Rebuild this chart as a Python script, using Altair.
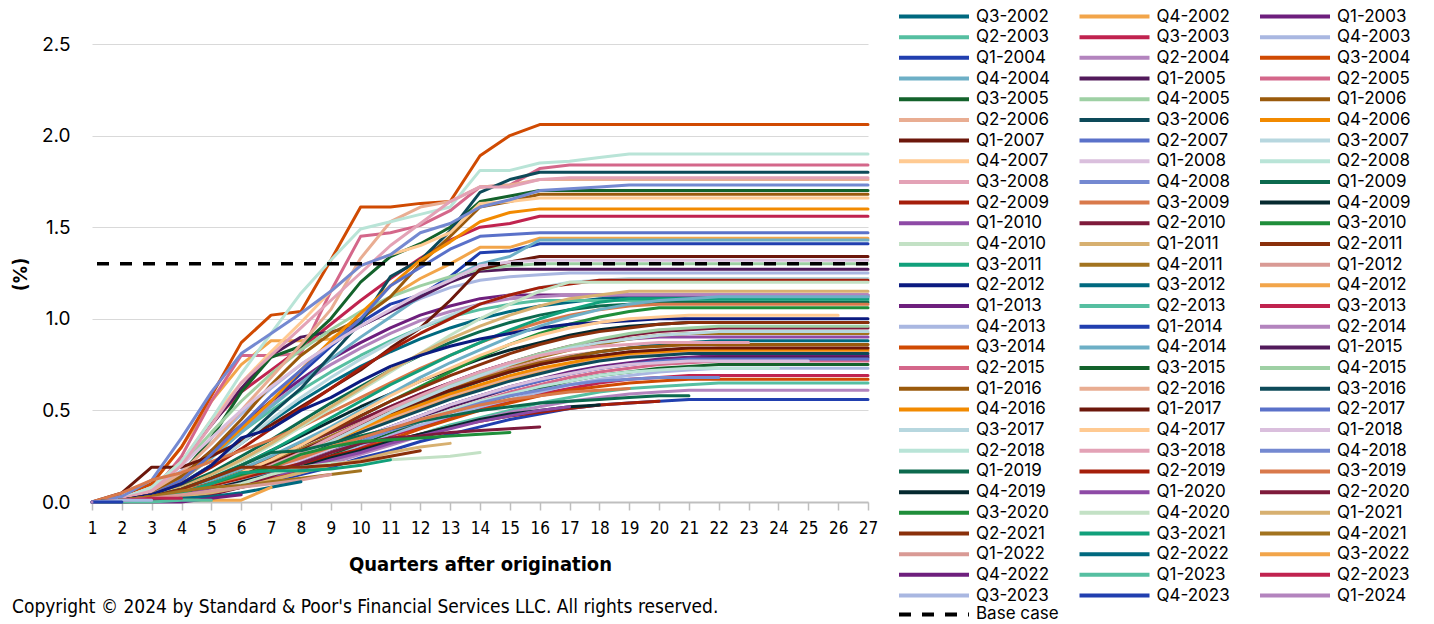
import altair as alt
import pandas as pd

QUARTERS = list(range(1, 28))
Y_TICKS = [0.0, 0.5, 1.0, 1.5, 2.0, 2.5]
BASE_CASE = 1.3
COPYRIGHT = "Copyright \u00a9 2024 by Standard & Poor's Financial Services LLC. All rights reserved."

SERIES = [
    "Q3-2002", "Q4-2002",
    "Q1-2003", "Q2-2003", "Q3-2003", "Q4-2003",
    "Q1-2004", "Q2-2004", "Q3-2004", "Q4-2004",
    "Q1-2005", "Q2-2005", "Q3-2005", "Q4-2005",
    "Q1-2006", "Q2-2006", "Q3-2006", "Q4-2006",
    "Q1-2007", "Q2-2007", "Q3-2007", "Q4-2007",
    "Q1-2008", "Q2-2008", "Q3-2008", "Q4-2008",
    "Q1-2009", "Q2-2009", "Q3-2009", "Q4-2009",
    "Q1-2010", "Q2-2010", "Q3-2010", "Q4-2010",
    "Q1-2011", "Q2-2011", "Q3-2011", "Q4-2011",
    "Q1-2012", "Q2-2012", "Q3-2012", "Q4-2012",
    "Q1-2013", "Q2-2013", "Q3-2013", "Q4-2013",
    "Q1-2014", "Q2-2014", "Q3-2014", "Q4-2014",
    "Q1-2015", "Q2-2015", "Q3-2015", "Q4-2015",
    "Q1-2016", "Q2-2016", "Q3-2016", "Q4-2016",
    "Q1-2017", "Q2-2017", "Q3-2017", "Q4-2017",
    "Q1-2018", "Q2-2018", "Q3-2018", "Q4-2018",
    "Q1-2019", "Q2-2019", "Q3-2019", "Q4-2019",
    "Q1-2020", "Q2-2020", "Q3-2020", "Q4-2020",
    "Q1-2021", "Q2-2021", "Q3-2021", "Q4-2021",
    "Q1-2022", "Q2-2022", "Q3-2022", "Q4-2022",
    "Q1-2023", "Q2-2023", "Q3-2023", "Q4-2023",
    "Q1-2024",
]

PALETTE = [
    "#00697F", "#F2A54A", "#6E1F7D", "#56BFA1", "#C0234F", "#A9B7E1", "#213FAF", "#B384BE",
    "#D04A02", "#6DAFC6", "#521A5B", "#D4678A", "#13622B", "#9ED0A4", "#9A5A0C", "#E9AD92",
    "#0D4A59", "#F28A00", "#6C170B", "#5A71C9", "#B7D7DF", "#FFCA92", "#DABFDD", "#B9E4D7",
    "#E3A2B6", "#7489D1", "#0C6A4E", "#A51E0A", "#D9794B", "#05292F", "#8E4AA6", "#7E1A3B",
    "#1F8E3A", "#C3E1C5", "#D7B070", "#8A300B", "#11A07B", "#A2731F", "#D99A95", "#0B1B80",
]
COLORS = PALETTE[:40] + PALETTE[:39] + PALETTE[:8]

# cumulative loss per vintage, in hundredths of a percent, quarter 1 onwards
LOSS = {
    "Q3-2002": [0,1,4,10,20,32,44,55,65,74,82,89,95,100,104,107,109,111,112,112,112,112,112,112,112,112,112],
    "Q4-2002": [0,2,10,30,55,75,88,88,89,100,112,122,130,139,139,144,144,144,144,144,144,144,144,144,144,144,144],
    "Q1-2003": [0,1,5,14,28,42,55,67,78,87,95,102,107,111,113,113,113,113,113,113,113,113,113,113,113,113,113],
    "Q2-2003": [0,1,4,12,25,38,50,61,71,80,88,95,101,105,108,110,110,110,110,110,110,110,110,110,110,110,110],
    "Q3-2003": [0,2,8,20,43,60,72,84,97,110,122,133,143,150,152,156,156,156,156,156,156,156,156,156,156,156,156],
    "Q4-2003": [0,2,7,17,32,48,62,75,86,96,104,111,117,121,123,124,125,125,125,125,125,125,125,125,125,125,125],
    "Q1-2004": [0,0,4,12,25,40,55,70,85,98,108,113,123,136,137,141,141,141,141,141,141,141,141,141,141,141,141],
    "Q2-2004": [0,1,5,13,26,40,53,65,75,84,92,99,104,108,111,112,113,113,113,113,113,113,113,113,113,113,113],
    "Q3-2004": [0,3,10,30,58,87,102,104,132,161,161,163,164,189,200,206,206,206,206,206,206,206,206,206,206,206,206],
    "Q4-2004": [0,1,4,12,24,38,52,65,78,90,101,112,122,130,134,143,143,143,143,143,143,143,143,143,143,143,143],
    "Q1-2005": [0,2,8,22,42,62,80,90,93,96,104,112,120,126,127,127,127,127,127,127,127,127,127,127,127,127,127],
    "Q2-2005": [0,2,5,25,55,80,80,81,115,145,147,151,159,172,173,182,184,184,184,184,184,184,184,184,184,184,184],
    "Q3-2005": [0,1,5,15,35,60,79,85,100,120,134,141,150,164,167,170,170,170,170,170,170,170,170,170,170,170,170],
    "Q4-2005": [0,2,8,20,38,55,70,83,94,104,112,118,123,127,129,130,130,130,130,130,130,130,130,130,130,130,130],
    "Q1-2006": [0,1,5,14,28,45,64,80,92,100,112,130,145,161,164,168,168,168,168,168,168,168,168,168,168,168,168],
    "Q2-2006": [0,2,6,16,32,50,68,86,105,133,153,161,164,172,173,176,176,176,176,176,176,176,176,176,176,176,176],
    "Q3-2006": [0,1,4,10,20,33,48,62,80,98,123,132,148,169,176,180,180,180,180,180,180,180,180,180,180,180,180],
    "Q4-2006": [0,1,4,12,25,40,55,72,88,103,118,132,142,153,158,160,160,160,160,160,160,160,160,160,160,160,160],
    "Q1-2007": [0,5,19,19,25,33,42,52,62,72,84,95,110,127,131,134,134,134,134,134,134,134,134,134,134,134,134],
    "Q2-2007": [0,1,4,12,26,42,58,72,86,100,118,128,138,145,146,147,147,147,147,147,147,147,147,147,147,147,147],
    "Q3-2007": [0,1,4,10,20,32,45,57,68,78,87,95,102,108,113,117,120,121,122,122,122,122,122,122,122,122,122],
    "Q4-2007": [0,2,8,22,45,65,82,98,115,129,135,140,147,163,164,166,166,166,166,166,166,166,166,166,166,166,166],
    "Q1-2008": [0,2,8,20,35,50,63,75,86,96,105,114,121,129,131,132,132,132,132,132,132,132,132,132,132,132,132],
    "Q2-2008": [0,2,8,22,45,70,92,114,132,149,153,157,161,181,181,185,186,188,190,190,190,190,190,190,190,190,190],
    "Q3-2008": [0,2,6,20,42,65,80,95,110,125,140,152,164,172,172,176,177,177,177,177,177,177,177,177,177,177,177],
    "Q4-2008": [0,3,12,35,60,81,92,103,115,129,135,147,152,161,165,170,171,172,173,173,173,173,173,173,173,173,173],
    "Q1-2009": [0,1,4,9,16,25,34,44,54,63,72,80,87,93,98,102,105,107,108,109,109,109,109,109,109,109,109],
    "Q2-2009": [0,1,4,10,19,29,40,51,62,73,83,92,100,108,113,117,119,121,121,121,121,121,121,121,121,121,121],
    "Q3-2009": [0,5,12,16,22,28,34,41,49,57,65,73,80,87,93,98,102,105,107,108,108,108,108,108,108,108,108],
    "Q4-2009": [0,1,3,7,13,20,28,36,44,52,59,66,72,78,83,87,91,94,96,97,98,98,98,98,98,98,98],
    "Q1-2010": [0,1,3,6,11,17,24,31,38,45,52,59,65,71,76,80,84,87,89,90,90,90,90,90,90,90,90],
    "Q2-2010": [0,1,3,6,11,17,24,31,38,45,52,59,65,71,76,81,85,88,91,93,94,95,95,95,95,95,95],
    "Q3-2010": [0,1,2,5,10,16,23,31,39,47,55,63,71,79,86,92,97,101,104,106,106,106,106,106,106,106,106],
    "Q4-2010": [0,1,3,7,14,22,31,41,51,61,71,81,91,100,108,115,120,120,120,120,120,120,120,120,120,120,120],
    "Q1-2011": [0,1,3,8,15,23,32,42,52,62,72,81,89,96,102,107,111,113,115,115,115,115,115,115,115,115,115],
    "Q2-2011": [0,1,3,6,11,17,24,31,39,47,55,62,69,75,81,86,90,93,95,97,98,98,98,98,98,98,98],
    "Q3-2011": [0,1,3,7,13,20,28,37,46,55,64,72,80,87,94,100,105,109,111,111,111,111,111,111,111,111,111],
    "Q4-2011": [0,1,2,5,10,16,22,29,36,43,50,57,63,69,74,79,83,86,89,91,92,92,92,92,92,92,92],
    "Q1-2012": [0,1,2,5,9,15,21,28,35,42,49,56,62,68,73,77,80,82,84,85,86,86,86,86,86,86,86],
    "Q2-2012": [0,1,4,10,20,35,40,50,57,66,74,80,85,89,92,95,97,98,99,100,100,100,100,100,100,100,100],
    "Q3-2012": [0,1,2,5,9,14,20,27,34,41,48,54,60,66,71,75,79,82,84,86,87,88,88,88,88,88,88],
    "Q4-2012": [0,1,2,4,8,13,19,25,31,38,45,51,57,62,67,71,75,78,80,82,83,84,84,84,84,84,84],
    "Q1-2013": [0,1,2,4,7,12,17,23,29,35,41,47,53,58,63,67,71,74,76,78,79,80,80,80,80,80,80],
    "Q2-2013": [0,1,2,3,6,9,13,17,22,27,32,37,42,46,50,54,57,60,62,63,64,65,65,65,65,65,65],
    "Q3-2013": [0,1,2,4,6,10,14,19,24,30,36,41,46,51,55,59,62,65,67,68,69,69,69,69,69,69,69],
    "Q4-2013": [0,1,2,4,7,11,15,20,25,31,37,42,47,52,56,60,64,67,69,71,72,73,73,73,73,73,73],
    "Q1-2014": [0,1,1,3,5,8,11,15,19,24,28,33,37,41,45,48,51,53,54,55,56,56,56,56,56,56,56],
    "Q2-2014": [0,1,2,3,5,8,12,16,21,26,31,36,41,45,49,52,55,57,59,60,61,61,61,61,61,61,61],
    "Q3-2014": [0,1,2,3,6,9,13,18,23,29,34,40,45,50,54,58,61,63,65,66,67,67,67,67,67,67,67],
    "Q4-2014": [0,1,3,7,12,18,25,33,41,50,59,68,76,83,90,96,101,105,108,110,111,112,112,112,112,112,112],
    "Q1-2015": [0,1,2,4,7,11,16,22,28,34,40,46,52,57,62,66,70,73,75,77,78,79,79,79,79,79,79],
    "Q2-2015": [0,1,2,4,7,11,16,21,27,33,39,45,50,55,60,64,68,71,73,75,76,77,77,77,77,77,77],
    "Q3-2015": [0,1,2,4,7,11,15,20,26,32,38,44,49,54,58,62,66,69,71,73,74,75,75,75,75,75,75],
    "Q4-2015": [0,1,2,5,9,14,20,27,34,42,50,57,64,70,76,81,85,89,92,94,95,96,96,96,96,96,96],
    "Q1-2016": [0,1,2,5,9,14,20,27,34,41,48,55,61,67,72,76,79,82,84,85,86,86,86,86,86,86,86],
    "Q2-2016": [0,1,2,4,8,13,19,25,32,39,46,52,58,63,68,72,75,78,80,81,82,82,82,82,82,82,82],
    "Q3-2016": [0,1,2,5,9,14,20,26,32,38,44,50,56,61,66,70,74,77,79,80,81,81,81,81,81,81,81],
    "Q4-2016": [0,1,2,4,8,13,19,26,33,40,47,53,59,64,69,73,76,79,81,82,83,83,83,83,83,83,83],
    "Q1-2017": [0,1,3,6,10,15,21,28,35,42,49,55,61,66,71,75,78,80,82,83,84,84,84,84,84,84,84],
    "Q2-2017": [0,1,2,4,7,12,17,23,29,35,41,47,53,58,62,66,70,73,75,77,78,78,78,78,78,78,78],
    "Q3-2017": [0,1,2,4,8,13,19,26,33,41,49,56,63,69,75,80,84,87,89,91,92,93,93,93,93,93,93],
    "Q4-2017": [0,1,2,5,10,16,23,31,40,49,58,66,73,80,86,91,95,98,100,101,102,102,102,102,102,102],
    "Q1-2018": [0,1,2,4,8,12,17,23,29,35,41,47,53,58,63,67,70,73,75,76,77,77,77,77,77],
    "Q2-2018": [0,1,2,4,7,11,16,21,27,33,39,45,50,55,59,63,66,69,71,72,73,73,73,73],
    "Q3-2018": [0,1,2,5,9,14,20,27,35,43,51,58,65,71,76,80,83,85,86,87,87,87,87],
    "Q4-2018": [0,1,2,4,7,11,16,21,27,33,39,44,49,54,58,61,64,66,67,68,68,68],
    "Q1-2019": [0,1,3,7,13,20,27,28,32,36,40,44,47,50,52,54,55,56,57,58,58],
    "Q2-2019": [0,1,2,5,9,13,17,21,25,29,33,37,41,44,47,49,51,53,54,55],
    "Q3-2019": [0,1,3,6,10,14,19,24,30,35,40,45,49,53,56,58,60,61,62],
    "Q4-2019": [0,1,2,4,7,11,15,19,24,28,33,37,41,45,48,50,52,53],
    "Q1-2020": [0,1,2,4,7,10,14,18,23,27,32,36,40,44,47,50,52],
    "Q2-2020": [0,0,1,2,4,8,14,21,27,32,35,36,38,39,40,41],
    "Q3-2020": [0,1,2,5,10,15,19,26,30,33,34,35,36,37,38],
    "Q4-2020": [0,0,1,3,6,10,15,19,21,22,23,24,25,27],
    "Q1-2021": [0,0,1,3,5,8,12,16,20,23,27,30,32],
    "Q2-2021": [0,1,3,7,13,19,19,19,20,22,25,28],
    "Q3-2021": [0,1,2,5,10,16,17,17,18,20,23],
    "Q4-2021": [0,1,3,6,8,9,11,13,15,17],
    "Q1-2022": [0,1,2,4,6,8,10,12,15],
    "Q2-2022": [0,0,1,2,3,5,8,11],
    "Q3-2022": [0,0,0,1,1,1,8],
    "Q4-2022": [0,0,0,0,2,4],
    "Q1-2023": [0,0,0,1,1],
    "Q2-2023": [0,1,2,2],
    "Q3-2023": [0,1,1],
    "Q4-2023": [0,0],
    "Q1-2024": [0],
}

rows = []
for name in SERIES:
    for q, v in zip(QUARTERS, LOSS[name]):
        rows.append({"series": name, "quarter": q, "loss": v / 100.0})
df = pd.DataFrame(rows)

FONT = "Inter"
NARROW = "Liberation Sans Narrow, DejaVu Sans Condensed, sans-serif"

LEGEND_X = 805
LEGEND_Y = -36
ROW_STEP = 20.62
ENTRY_H = 17.94

lines = alt.Chart(df).mark_line(strokeWidth=3, strokeCap="round", strokeJoin="round").encode(
    x=alt.X(
        "quarter:Q",
        scale=alt.Scale(domain=[1, 27], nice=False, zero=False),
        axis=alt.Axis(
            values=QUARTERS, title="Quarters after origination", grid=False,
            domainColor="#BFBFBF", domainWidth=2, tickColor="#BFBFBF", tickWidth=1.5, tickSize=8,
            labelFont=NARROW, labelFontSize=17, labelColor="#000000", labelPadding=10, labelFlush=False,
            titleFont=NARROW, titleFontSize=20, titleFontWeight="bold", titleColor="#000000", titlePadding=18,
        ),
    ),
    y=alt.Y(
        "loss:Q",
        scale=alt.Scale(domain=[0, 2.5], nice=False),
        axis=alt.Axis(
            values=Y_TICKS, format=".1f", title="(%)", domain=False, ticks=False,
            gridColor="#D9D9D9", gridWidth=1,
            labelFont=FONT, labelFontSize=19, labelColor="#000000", labelPadding=22,
            titleFont=FONT, titleFontSize=19, titleFontWeight="bold", titleColor="#000000",
            titleX=-72, titleY=230, titleAlign="center", titleBaseline="middle", titleAngle=270,
        ),
    ),
    color=alt.Color(
        "series:N",
        scale=alt.Scale(domain=SERIES, range=COLORS),
        sort=SERIES,
        legend=alt.Legend(
            title=None, orient="none", legendX=LEGEND_X, legendY=LEGEND_Y, columns=3,
            direction="horizontal",
            symbolType="stroke", symbolSize=4900, symbolStrokeWidth=4, symbolLimit=200,
            clipHeight=17,
            labelFont=FONT, labelFontSize=17, labelColor="#000000", labelOffset=5,
            rowPadding=ROW_STEP - ENTRY_H, columnPadding=26.5, gridAlign="all",
        ),
    ),
)

base = alt.Chart(pd.DataFrame({"label": ["Base case"], "loss": [BASE_CASE]})).mark_rule(
    strokeWidth=3.5, color="#000000"
).encode(
    y="loss:Q",
    strokeDash=alt.StrokeDash(
        "label:N",
        scale=alt.Scale(domain=["Base case"], range=[[12, 11]]),
        legend=alt.Legend(
            title=None, orient="none", legendX=LEGEND_X, legendY=LEGEND_Y + 29 * ROW_STEP,
            symbolType="stroke", symbolSize=4900, symbolStrokeWidth=4, symbolStrokeColor="#000000",
            clipHeight=17,
            labelFont=FONT, labelFontSize=17, labelColor="#000000", labelOffset=5,
        ),
    ),
)

note = alt.Chart(pd.DataFrame({"text": [COPYRIGHT]})).mark_text(
    align="left", baseline="middle", font=NARROW, fontSize=19, color="#000000"
).encode(x=alt.value(-80), y=alt.value(563), text="text:N")

chart = alt.layer(lines, base, note).properties(
    width=776, height=458,
    padding={"left": 84, "top": 36, "right": 558, "bottom": 122},
    autosize=alt.AutoSizeParams(type="none"),
).configure_view(stroke=None)

chart.save("out.html", embed_options={"renderer": "svg", "actions": False})
